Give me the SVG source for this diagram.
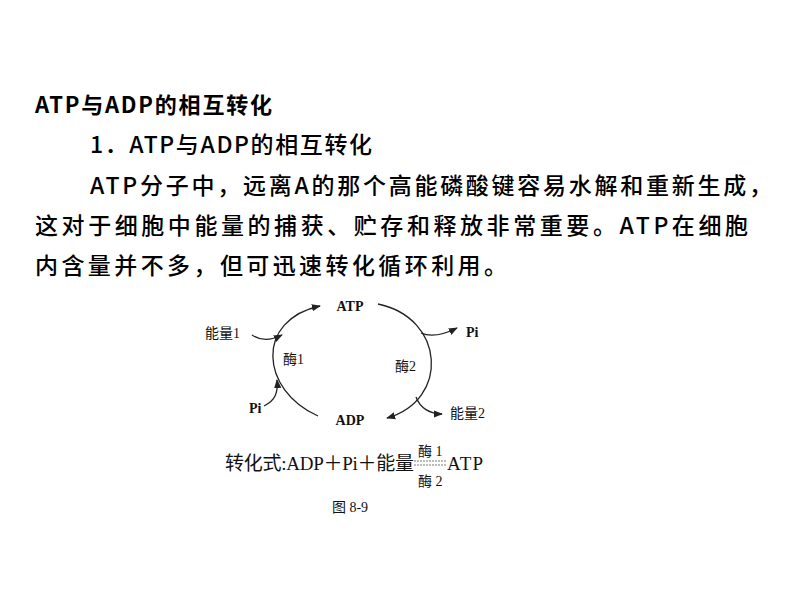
<svg xmlns="http://www.w3.org/2000/svg" width="800" height="600" viewBox="0 0 800 600">
<defs>
<style>
.t{font-family:"Noto Sans CJK SC","Liberation Sans",sans-serif;font-size:23px;fill:#000;font-weight:500}
.h{font-weight:bold;font-size:22px}
.d{font-family:"Liberation Serif","Noto Sans CJK SC",serif;font-size:14px;fill:#111}
.c{fill:none;stroke:#222;stroke-width:1.3}
</style>
<marker id="a" viewBox="0 0 10 10" refX="9" refY="5" markerWidth="7" markerHeight="7" orient="auto"><path d="M0,1 L10,5 L0,9 Z" fill="#222"/></marker>
</defs>
<rect width="800" height="600" fill="#fff"/>
<text class="t h" x="35" y="113" textLength="237">ATP与ADP的相互转化</text>
<text class="t" x="90" y="153" textLength="282">1．ATP与ADP的相互转化</text>
<text class="t" x="90" y="194" textLength="682">ATP分子中，远离A的那个高能磷酸键容易水解和重新生成，</text>
<text class="t" x="35" y="234" textLength="713">这对于细胞中能量的捕获、贮存和释放非常重要。ATP在细胞</text>
<text class="t" x="35" y="274" textLength="472">内含量并不多，但可迅速转化循环利用。</text>
<g id="connectors">
<path class="c" marker-end="url(#a)" d="M318,416 C260,390 255,320 320,306"/>
<path class="c" marker-end="url(#a)" d="M378,304 C445,318 450,400 387,418"/>
<path class="c" marker-end="url(#a)" d="M252,335 C262,342 272,340 282,335"/>
<path class="c" marker-end="url(#a)" d="M264,406 C276,400 278,392 277,380"/>
<path class="c" marker-end="url(#a)" d="M421,333 C432,338 445,334 457,328"/>
<path class="c" marker-end="url(#a)" d="M416,397 C420,408 430,414 442,414"/>
</g>
<g id="atp"><text class="d" x="350" y="311" text-anchor="middle" font-weight="bold">ATP</text></g>
<g id="adp"><text class="d" x="350" y="425" text-anchor="middle" font-weight="bold">ADP</text></g>
<g id="e1"><text class="d" x="205" y="338">能量1</text></g>
<g id="m1"><text class="d" x="283" y="364">酶1</text></g>
<g id="m2"><text class="d" x="395" y="371">酶2</text></g>
<g id="pi1"><text class="d" x="466" y="337" font-weight="bold">Pi</text></g>
<g id="pi2"><text class="d" x="249" y="413" font-weight="bold">Pi</text></g>
<g id="e2"><text class="d" x="450" y="418">能量2</text></g>
<g id="formula">
<text class="d" x="225" y="470" style="font-size:19px" textLength="189">转化式:ADP＋Pi＋能量</text>
<text class="d" x="418" y="456">酶 1</text>
<text class="d" x="418" y="486">酶 2</text>
<path d="M414,461 H447 M414,465 H447" stroke="#555" stroke-width="0.8" stroke-dasharray="2,1"/>
<text class="d" x="447" y="470" style="font-size:19px" textLength="36">ATP</text>
</g>
<text class="d" x="350" y="512" text-anchor="middle" style="font-size:14px">图 8-9</text>
</svg>
